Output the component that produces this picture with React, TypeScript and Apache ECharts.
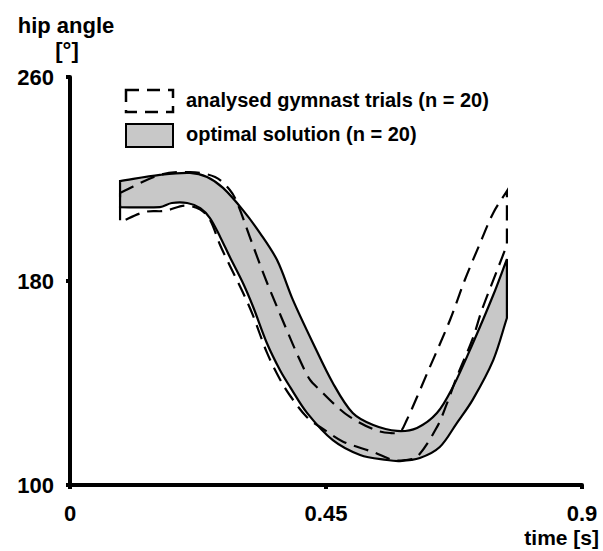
import React, { useEffect, useRef } from "react";
import * as echarts from "echarts";

// ---- data (time [s], hip angle [deg]) ----
const xTicks = [0, 0.45, 0.9];
const yTicks = [100, 180, 260];

const optimalUpper: [number, number][] = [
  [0.088, 219.2], [0.158, 221.6], [0.211, 222.4], [0.241, 220.8], [0.269, 216.5],
  [0.304, 207.8], [0.334, 198.8], [0.364, 188.2], [0.392, 172.5], [0.427, 155.7],
  [0.462, 140.0], [0.497, 128.2], [0.533, 123.5], [0.575, 121.2], [0.61, 122.4],
  [0.645, 128.2], [0.673, 138.4], [0.708, 155.5], [0.744, 174.5], [0.768, 188.6],
];

const optimalLower: [number, number][] = [
  [0.088, 209.0], [0.158, 209.0], [0.179, 210.6], [0.206, 210.6], [0.229, 208.6],
  [0.246, 204.7], [0.264, 197.3], [0.281, 189.4], [0.304, 179.2], [0.322, 169.8],
  [0.346, 155.7], [0.369, 145.1], [0.387, 138.4], [0.417, 128.2], [0.462, 117.6],
  [0.51, 111.8], [0.557, 109.8], [0.58, 109.4], [0.615, 110.6], [0.65, 114.9],
  [0.68, 124.3], [0.708, 133.5], [0.744, 149.0], [0.768, 165.5],
];

const trialsUpper: [number, number][] = [
  [0.088, 214.5], [0.158, 221.6], [0.211, 222.7], [0.255, 220.8], [0.281, 215.7],
  [0.294, 210.6], [0.316, 197.3], [0.343, 181.2], [0.364, 169.8], [0.381, 160.8],
  [0.404, 149.0], [0.422, 141.2], [0.439, 137.3], [0.466, 131.4], [0.492, 126.7],
  [0.536, 121.6], [0.563, 120.4], [0.58, 120.8], [0.592, 125.5], [0.61, 134.5],
  [0.628, 143.9], [0.668, 164.7], [0.694, 180.4], [0.721, 194.9], [0.744, 206.7],
  [0.768, 215.3],
];

const trialsLower: [number, number][] = [
  [0.088, 203.1], [0.132, 207.1], [0.167, 207.5], [0.202, 209.6], [0.229, 208.0],
  [0.246, 204.0], [0.264, 194.0], [0.281, 186.0], [0.304, 175.5], [0.322, 166.3],
  [0.346, 152.0], [0.369, 141.5], [0.387, 135.0], [0.417, 126.5], [0.448, 121.5],
  [0.48, 117.0], [0.533, 112.9], [0.568, 109.8], [0.589, 109.8], [0.61, 111.0],
  [0.645, 122.7], [0.663, 132.2], [0.68, 142.4], [0.708, 157.5], [0.724, 168.6],
  [0.751, 184.3], [0.768, 194.1],
];

const legendLabels = ["analysed gymnast trials (n = 20)", "optimal solution (n = 20)"];
const yAxisTitle = ["hip angle", "[°]"];
const xAxisTitle = "time [s]";

const FONT = '"Liberation Sans", Arial, Helvetica, sans-serif';

function bandPoints(api: any, upper: [number, number][], lower: [number, number][]) {
  const up = upper.map((p) => api.coord(p));
  const lo = lower.map((p) => api.coord(p)).reverse();
  return [up[0], ...up, up[up.length - 1], lo[0], ...lo, lo[lo.length - 1]];
}

export default function App() {
  const ref = useRef<HTMLDivElement>(null);

  useEffect(() => {
    if (!ref.current) return;
    const chart = echarts.init(ref.current, undefined, { renderer: "svg" });

    const labelStyle = {
      color: "#000",
      fontSize: 22,
      fontWeight: "bold" as const,
      fontFamily: FONT,
    };

    const option: any = {
      animation: false,
      grid: { left: 70, right: 21, top: 77, bottom: 66, containLabel: false, outerBoundsMode: "none" },
      xAxis: {
        type: "value",
        min: xTicks[0],
        max: xTicks[xTicks.length - 1],
        interval: xTicks[1] - xTicks[0],
        axisLine: { show: true, lineStyle: { color: "#000", width: 4 } },
        axisTick: { show: true, length: 4, lineStyle: { color: "#000", width: 4 } },
        axisLabel: { ...labelStyle, margin: 17 },
        splitLine: { show: false },
      },
      yAxis: {
        type: "value",
        min: yTicks[0],
        max: yTicks[yTicks.length - 1],
        interval: yTicks[1] - yTicks[0],
        axisLine: { show: true, lineStyle: { color: "#000", width: 4 } },
        axisTick: { show: true, length: 4, lineStyle: { color: "#000", width: 4 } },
        axisLabel: { ...labelStyle, margin: 16 },
        splitLine: { show: false },
      },
      series: [
        {
          name: legendLabels[1],
          type: "custom",
          coordinateSystem: "cartesian2d",
          data: optimalUpper.concat(optimalLower),
          encode: { x: 0, y: 1 },
          renderItem: (params: any, api: any) => {
            if (params.dataIndex !== 0) return null;
            return {
              type: "polygon",
              shape: { points: bandPoints(api, optimalUpper, optimalLower), smooth: 0.33 },
              style: { fill: "#c8c8c8", stroke: "#000", lineWidth: 2.2 },
            };
          },
        },
        {
          name: legendLabels[0],
          type: "custom",
          coordinateSystem: "cartesian2d",
          data: trialsUpper.concat(trialsLower),
          encode: { x: 0, y: 1 },
          renderItem: (params: any, api: any) => {
            if (params.dataIndex !== 0) return null;
            return {
              type: "polygon",
              shape: { points: bandPoints(api, trialsUpper, trialsLower), smooth: 0.33 },
              style: { fill: "none", stroke: "#000", lineWidth: 2.2, lineDash: [15, 8] },
            };
          },
        },
      ],
      graphic: [
        {
          type: "text",
          x: 66,
          y: 25,
          style: { text: yAxisTitle[0], fill: "#000", font: `bold 22px ${FONT}`, align: "center", verticalAlign: "middle" },
        },
        {
          type: "text",
          x: 67,
          y: 50,
          style: { text: yAxisTitle[1], fill: "#000", font: `bold 22px ${FONT}`, align: "center", verticalAlign: "middle" },
        },
        {
          type: "text",
          x: 599,
          y: 537,
          style: { text: xAxisTitle, fill: "#000", font: `bold 21px ${FONT}`, align: "right", verticalAlign: "middle" },
        },
        {
          type: "rect",
          shape: { x: 126, y: 90, width: 47, height: 22 },
          style: { fill: "none", stroke: "#000", lineWidth: 2.5, lineDash: [13, 8] },
        },
        {
          type: "text",
          x: 186,
          y: 100,
          style: { text: legendLabels[0], fill: "#000", font: `bold 20px ${FONT}`, align: "left", verticalAlign: "middle" },
        },
        {
          type: "rect",
          shape: { x: 126, y: 124, width: 47, height: 23 },
          style: { fill: "#c8c8c8", stroke: "#000", lineWidth: 2 },
        },
        {
          type: "text",
          x: 186,
          y: 134,
          style: { text: legendLabels[1], fill: "#000", font: `bold 20px ${FONT}`, align: "left", verticalAlign: "middle" },
        },
      ],
    };

    chart.setOption(option);
    return () => chart.dispose();
  }, []);

  return (
    <div
      ref={ref}
      style={{ position: "absolute", left: 0, top: 0, width: 603, height: 551, background: "#fff" }}
    />
  );
}
